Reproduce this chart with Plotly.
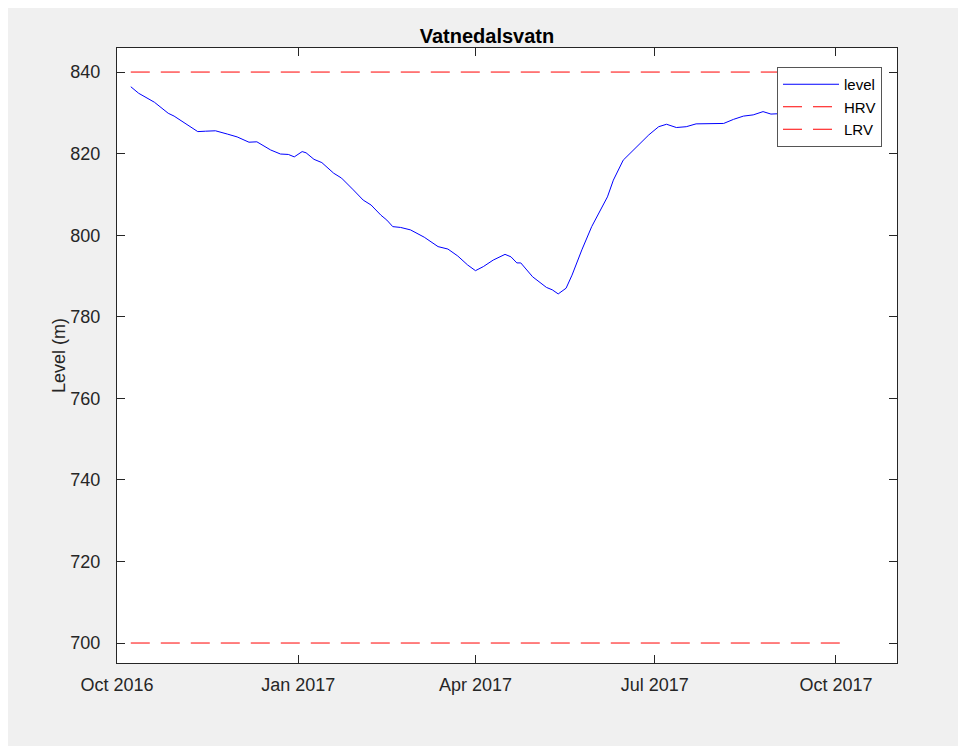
import plotly.graph_objects as go

# ---- data ----
dates = [
    "2016-10-08", "2016-10-12", "2016-10-20", "2016-10-27", "2016-10-30",
    "2016-11-05", "2016-11-11", "2016-11-15", "2016-11-20", "2016-11-26",
    "2016-12-01", "2016-12-07", "2016-12-11", "2016-12-18", "2016-12-23",
    "2016-12-27", "2016-12-30", "2017-01-03", "2017-01-05", "2017-01-09",
    "2017-01-13", "2017-01-19", "2017-01-23", "2017-01-29", "2017-02-03",
    "2017-02-07", "2017-02-12", "2017-02-15", "2017-02-18", "2017-02-22",
    "2017-02-27", "2017-03-06", "2017-03-13", "2017-03-18", "2017-03-23",
    "2017-03-28", "2017-04-01", "2017-04-05", "2017-04-10", "2017-04-16",
    "2017-04-19", "2017-04-22", "2017-04-24", "2017-04-30", "2017-05-07",
    "2017-05-10", "2017-05-13", "2017-05-17", "2017-05-20", "2017-05-25",
    "2017-05-30", "2017-06-07", "2017-06-10", "2017-06-15", "2017-06-21",
    "2017-06-28", "2017-07-03", "2017-07-07", "2017-07-12", "2017-07-17",
    "2017-07-22", "2017-07-29", "2017-08-05", "2017-08-10", "2017-08-15",
    "2017-08-20", "2017-08-25", "2017-08-29", "2017-09-05", "2017-09-12",
]
level = [
    836.4, 834.8, 832.6, 829.9, 829.2,
    827.4, 825.4, 825.5, 825.6, 824.8,
    824.1, 822.8, 822.9, 820.9, 819.9,
    819.8, 819.2, 820.5, 820.2, 818.6,
    817.8, 815.2, 814.0, 811.1, 808.6,
    807.4, 804.9, 803.7, 802.1, 801.9,
    801.3, 799.5, 797.2, 796.6, 794.9,
    792.7, 791.3, 792.3, 793.9, 795.3,
    794.7, 793.2, 793.2, 789.8, 787.2,
    786.6, 785.6, 787.0, 790.2, 796.4,
    802.1, 809.4, 813.5, 818.4, 821.3,
    824.6, 826.6, 827.2, 826.4, 826.6,
    827.3, 827.4, 827.4, 828.4, 829.2,
    829.5, 830.3, 829.7, 829.8, 830.0,
]
ref_dates = ["2016-10-08", "2017-10-08"]
hrv = [840, 840]
lrv = [700, 700]

tick_dates = ["2016-10-01", "2017-01-01", "2017-04-01", "2017-07-01", "2017-10-01"]
tick_labels = ["Oct 2016", "Jan 2017", "Apr 2017", "Jul 2017", "Oct 2017"]
y_ticks = [700, 720, 740, 760, 780, 800, 820, 840]

FONT = "Liberation Sans, Arial, Helvetica, sans-serif"
AX = "#262626"

fig = go.Figure()
fig.add_trace(go.Scatter(x=dates, y=level, mode="lines", name="level",
                         line=dict(color="#0000ff", width=1)))
fig.add_trace(go.Scatter(x=ref_dates, y=hrv, mode="lines", name="HRV",
                         line=dict(color="#ff0000", width=1, dash="19px,11px")))
fig.add_trace(go.Scatter(x=ref_dates, y=lrv, mode="lines", name="LRV",
                         line=dict(color="#ff0000", width=1, dash="19px,11px")))

# page body adds an 8px offset; figure pixels = screen pixels - 8
OFF = 8
W, H = 966 - OFF, 746 - OFF
L, R, T, B = 117 - OFF, 966 - 897, 48 - OFF, 746 - 663
pw, ph = W - L - R, H - T - B


def px(xs):
    return (xs - OFF - L) / pw


def py(ys):
    return (H - B - (ys - OFF)) / ph


fig.update_layout(
    width=W, height=H,
    margin=dict(l=L, r=R, t=T, b=B, pad=0),
    paper_bgcolor="#f0f0f0",
    plot_bgcolor="white",
    font=dict(family=FONT, size=18, color=AX),
    title=dict(text="<b>Vatnedalsvatn</b>", x=px(507), xanchor="center",
               y=1 - (36 - OFF) / H, yanchor="middle",
               font=dict(family=FONT, size=20, color="#000000")),
    xaxis=dict(
        range=["2016-10-01", "2017-11-01"],
        tickvals=tick_dates, ticktext=tick_labels,
        showgrid=False, zeroline=False,
        showline=True, linecolor=AX, linewidth=1, mirror="ticks",
        ticks="inside", ticklen=8, tickcolor=AX, tickwidth=1,
        tickfont=dict(family=FONT, size=18, color=AX),
        ticklabelstandoff=5,
    ),
    yaxis=dict(
        range=[695.1, 845.9],
        tickvals=y_ticks,
        showgrid=False, zeroline=False,
        showline=True, linecolor=AX, linewidth=1, mirror="ticks",
        ticks="inside", ticklen=8, tickcolor=AX, tickwidth=1,
        tickfont=dict(family=FONT, size=18, color=AX),
        ticklabelstandoff=12,
        title=dict(text="Level (m)", font=dict(family=FONT, size=18, color=AX),
                   standoff=0),
    ),
    legend=dict(
        x=px(882), xanchor="right", y=py(67), yanchor="top",
        bgcolor="white", bordercolor="#555555", borderwidth=1,
        font=dict(family=FONT, size=15, color="#000000"),
        tracegroupgap=0, itemwidth=56,
    ),
    showlegend=True,
)

fig.write_html("out.html")
